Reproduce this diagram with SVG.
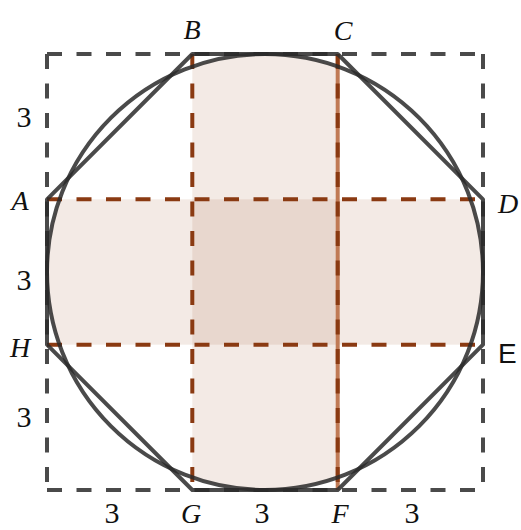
<svg xmlns="http://www.w3.org/2000/svg" width="521" height="530" viewBox="0 0 521 530">
<style>
.sq{stroke:#4a4a4a;stroke-width:4;fill:none;stroke-dasharray:15 14.5}
.br{stroke:#8a3a12;stroke-width:4;fill:none;stroke-dasharray:15 14.5}
.band{fill:#a0522d;fill-opacity:0.12}
.oct{fill:none;stroke:#2a2a2a;stroke-opacity:0.85;stroke-width:4;stroke-linejoin:round}
.lbl{font-family:"Liberation Serif","DejaVu Serif",serif;font-style:italic;font-size:28px;fill:#111;text-anchor:middle}
.num{font-family:"Liberation Serif","DejaVu Serif",serif;font-size:30px;fill:#111;text-anchor:middle}
.sans{font-family:"Liberation Sans","DejaVu Sans",sans-serif;font-size:28px;fill:#111}
</style>
<defs>
<clipPath id="cc"><circle cx="265" cy="272" r="218"/></clipPath>
</defs>
<rect width="521" height="530" fill="#fff"/>
<g id="shading" clip-path="url(#cc)">
<rect class="band" x="192.3" y="54" width="145.4" height="436"/>
<rect class="band" x="47" y="199.3" width="436" height="145.4"/>
</g>
<g id="connectors">
<line class="sq" x1="47" y1="54" x2="483" y2="54"/>
<line class="sq" x1="47" y1="54" x2="47" y2="490"/>
<line class="sq" x1="47" y1="490" x2="483" y2="490"/>
<line class="sq" x1="483" y1="54" x2="483" y2="490"/>
<line x1="337.7" y1="54" x2="337.7" y2="490" stroke="#c07a55" stroke-width="4"/>
<line class="br" x1="47" y1="199.3" x2="483" y2="199.3"/>
<line class="br" x1="47" y1="344.7" x2="483" y2="344.7"/>
<line class="br" x1="192.3" y1="54" x2="192.3" y2="490"/>
<line class="br" x1="337.7" y1="54" x2="337.7" y2="490"/>
</g>
<g id="octagon">
<polygon class="oct" points="47,199.3 192.3,54 337.7,54 483,199.3 483,344.7 337.7,490 192.3,490 47,344.7"/>
</g>
<g id="circle">
<circle class="oct" cx="265" cy="272" r="218"/>
</g>
<g id="labels">
<text class="lbl" x="192" y="39">B</text>
<text class="lbl" x="343" y="40">C</text>
<text class="lbl" x="20" y="210">A</text>
<text class="lbl" x="508" y="213">D</text>
<text class="lbl" x="20" y="357">H</text>
<text class="sans" x="498" y="363">E</text>
<text class="lbl" x="191" y="523">G</text>
<text class="lbl" x="340" y="523">F</text>
<text class="num" x="24" y="127">3</text>
<text class="num" x="24" y="290">3</text>
<text class="num" x="24" y="427">3</text>
<text class="num" x="112" y="523">3</text>
<text class="num" x="262" y="523">3</text>
<text class="num" x="412" y="523">3</text>
</g>
</svg>
